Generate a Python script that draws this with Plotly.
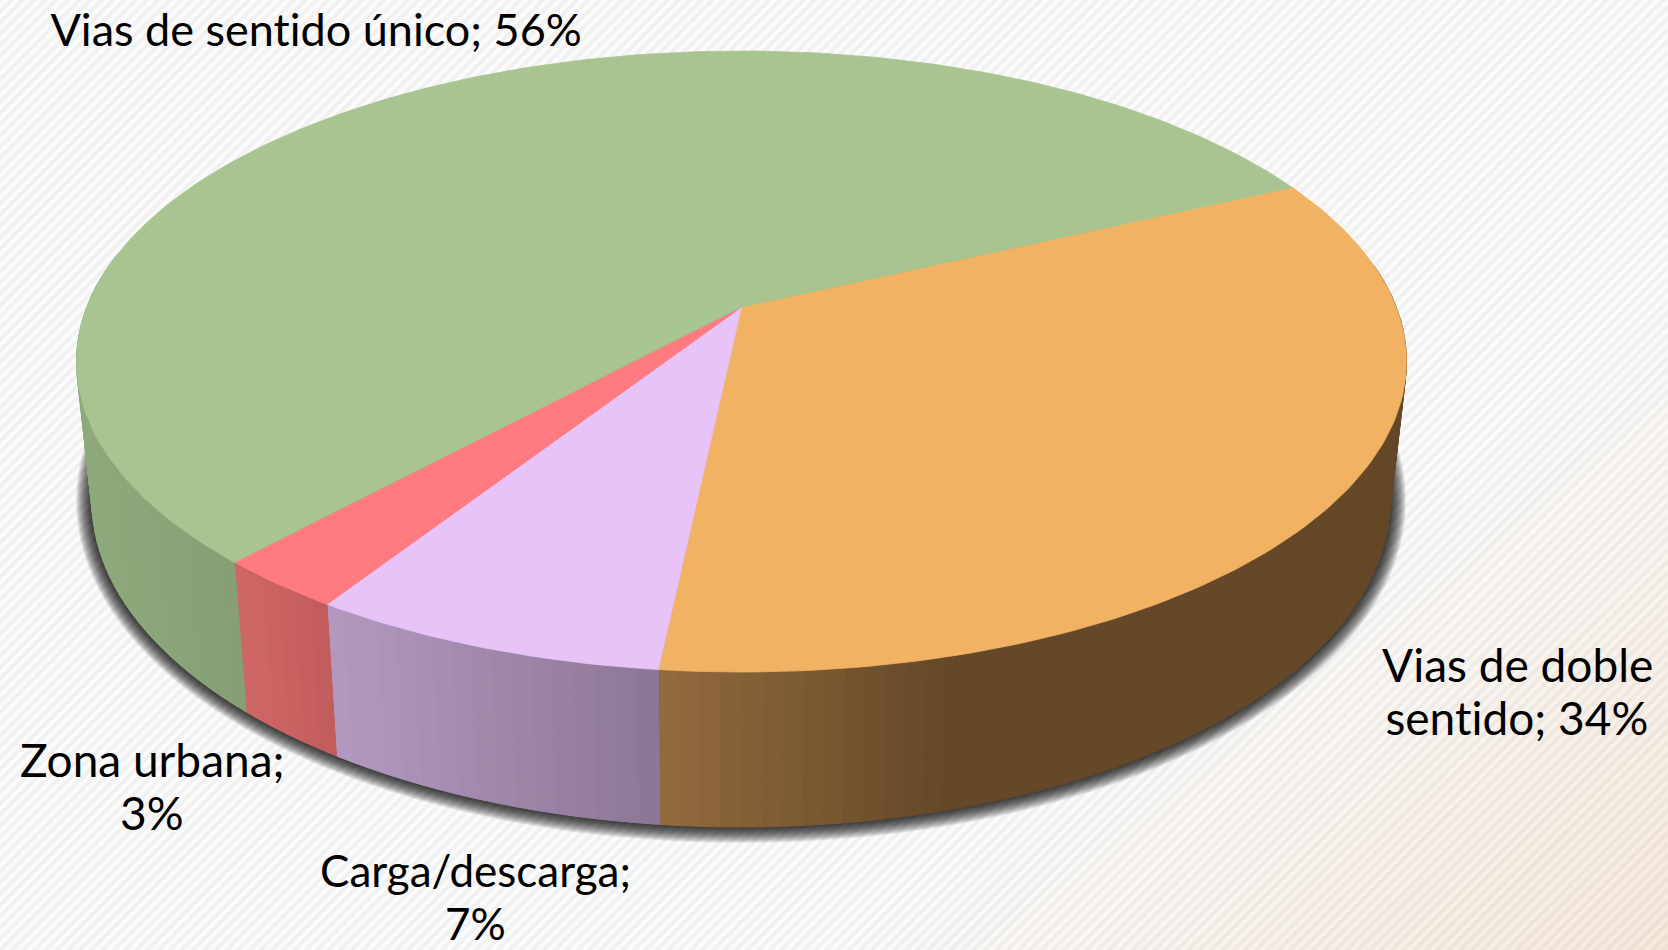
import math
import numpy as np
import plotly.graph_objects as go

# ---- chart data ----
categories = ["Vias de doble sentido", "Carga/descarga", "Zona urbana", "Vias de sentido único"]
values = [33.7, 7.4, 2.7, 56.2]  # the labels show these rounded
label_lines = [["Vias de doble", "sentido; 34%"], ["Carga/descarga;", "7%"], ["Zona urbana;", "3%"], ["Vias de sentido único; 56%"]]

# ---- styles ----
top_colors = ["#F2B263", "#E7C3F7", "#FF7B80", "#A8C591"]
side_from = [(147, 107, 60), (178, 152, 190), (207, 102, 102), (142, 170, 124)]
side_to = [(100, 72, 40), (140, 118, 150), (192, 90, 90), (133, 158, 116)]
side_xr = [(660, 950), (337, 660), (248, 337), (85, 248)]
label_xy = [(1517, 691), (475, 896.5), (152, 786), (316, 29)]
label_step = [53, 53, 53, 53]
label_size = [46, 44, 46, 45]
FONT = "Lato"

W, H = 1668, 950
TOP = dict(cx=741.5, cy=361.5, rx=665.0, ry=310.5)
BOT = dict(cx=741.0, cy=501.0, rx=649.0, ry=326.0)
A = -0.1755
START = -25.3


def project(deg, e, grow=0.0):
    t = np.radians(deg)
    u, v = np.cos(t), np.sin(t)
    d = 1 + A * v
    up = u * math.sqrt(1 - A * A) / d
    vp = (v + A) / d
    return e["cx"] + (e["rx"] + grow) * up, e["cy"] + (e["ry"] + grow) * vp


fig = go.Figure()

# background: soft corner tint
gx = np.linspace(0, W, 60)
gy = np.linspace(0, H, 40)
X, Y = np.meshgrid(gx, gy)
tint = np.clip(((X - 1668) * 0.62 + (Y - 950) * 0.78 + 520) / 520, 0, 1)
fig.add_trace(go.Heatmap(x=gx, y=gy, z=tint, zmin=0, zmax=1, zsmooth="best", showscale=False, hoverinfo="skip",
                         colorscale=[[0, "#FBFBFB"], [1, "#F6E9DC"]]))
# background: fine diagonal hatch
fig.add_trace(go.Scatter(x=[0, W, W, 0, 0], y=[0, 0, H, H, 0], mode="none", fill="toself", hoverinfo="skip",
                         fillcolor="rgba(0,0,0,0)",
                         fillpattern=dict(shape="/", size=8, solidity=0.5, fgcolor="rgba(0,0,0,0.08)",
                                          bgcolor="rgba(0,0,0,0)", fillmode="overlay")))

# shadow under the pie
ang = np.linspace(0, 360, 241)
for g in range(16, 0, -1):
    sx, sy = project(ang, BOT, grow=g)
    fig.add_trace(go.Scatter(x=sx, y=sy, mode="none", fill="toself", fillcolor="rgba(0,0,0,0.08)", hoverinfo="skip"))

# slice angles from the values
edges = [START]
for v in values:
    edges.append(edges[-1] + v * 3.6)

# rim
for i in range(len(values)):
    a0, a1 = edges[i], edges[i + 1]
    if i == 0:
        a0 = max(a0, -8)
    if i == 3:
        a1 = min(a1, 190)
    n = max(2, int((a1 - a0) / 1.5))
    st = np.linspace(a0, a1, n + 1)
    xr = side_xr[i]
    for k in range(n):
        pair = np.array([st[k], st[k + 1]])
        tx, ty = project(pair, TOP)
        bx, by = project(pair, BOT)
        f = np.clip((tx.mean() - xr[0]) / (xr[1] - xr[0]), 0, 1)
        c = [round(side_from[i][j] + (side_to[i][j] - side_from[i][j]) * f) for j in range(3)]
        col = f"rgb({c[0]},{c[1]},{c[2]})"
        fig.add_trace(go.Scatter(x=[tx[0], tx[1], bx[1], bx[0], tx[0]], y=[ty[0], ty[1], by[1], by[0], ty[0]],
                                 mode="lines", fill="toself", fillcolor=col, line=dict(color=col, width=1),
                                 hoverinfo="skip"))

# top faces
apex_x = TOP["cx"]
apex_y = TOP["cy"] + TOP["ry"] * A
for i, name in enumerate(categories):
    st = np.linspace(edges[i], edges[i + 1], max(3, int(values[i] * 3.6)))
    rx_, ry_ = project(st, TOP)
    fig.add_trace(go.Scatter(x=[apex_x, *rx_, apex_x], y=[apex_y, *ry_, apex_y], mode="lines", fill="toself",
                             name=name, fillcolor=top_colors[i], line=dict(color=top_colors[i], width=0.8),
                             hoverinfo="skip"))

annotations = []
for i in range(len(values)):
    lines = label_lines[i]
    for j, line in enumerate(lines):
        annotations.append(dict(x=label_xy[i][0], y=label_xy[i][1] + (j - (len(lines) - 1) / 2) * label_step[i],
                                xref="x", yref="y", showarrow=False, text=line,
                                font=dict(family=FONT, size=label_size[i], color="#000000")))

fig.update_layout(width=W, height=H, margin=dict(l=0, r=0, t=0, b=0), showlegend=False, paper_bgcolor="#FBFBFB",
                  plot_bgcolor="rgba(0,0,0,0)", annotations=annotations,
                  xaxis=dict(range=[0, W], visible=False, fixedrange=True),
                  yaxis=dict(range=[H, 0], visible=False, fixedrange=True))

fig.write_html("out.html", config={"displayModeBar": False},
               post_script="document.body.style.margin='0';document.body.style.overflow='hidden';"
                           "var s=document.createElement('style');"
                           "s.textContent='text{font-variant-ligatures:none !important;}';"
                           "document.head.appendChild(s);")
